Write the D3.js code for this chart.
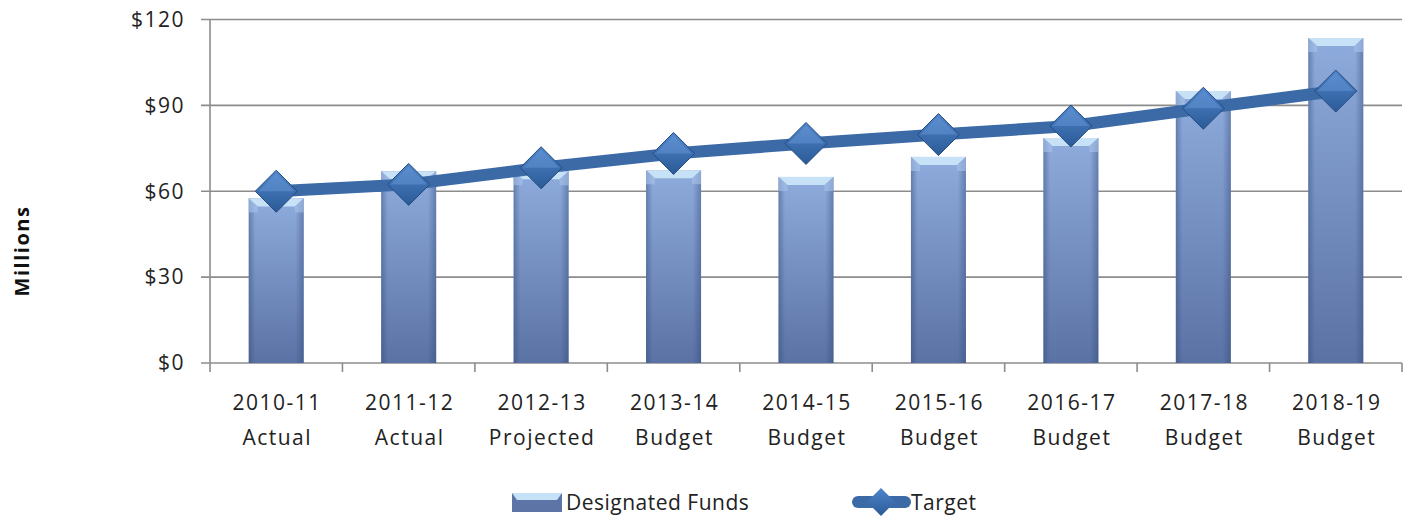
<!DOCTYPE html>
<html>
<head>
<meta charset="utf-8">
<script src="https://cdn.jsdelivr.net/npm/d3@7"></script>
<style>
  body { margin: 0; background: #fff; }
  text { font-family: "Open Sans", "Liberation Sans", sans-serif; fill: #222; }
</style>
</head>
<body>
<div id="chart"></div>
<script>
"use strict";

var years = ["2010-11", "2011-12", "2012-13", "2013-14", "2014-15", "2015-16", "2016-17", "2017-18", "2018-19"];
var kinds = ["Actual", "Actual", "Projected", "Budget", "Budget", "Budget", "Budget", "Budget", "Budget"];
var funds = [57.5, 67, 67, 67.3, 65, 72, 78.6, 95, 113.5];   // Designated Funds
var target = [60, 62.4, 68.2, 73.2, 76.7, 79.8, 82.8, 89, 95];
var yTicks = [0, 30, 60, 90, 120];

const width = 1418, height = 529;
const margin = {left: 210, right: 16, top: 19.5, bottom: 166};

let svg = d3.select("#chart").append("svg")
  .attr("width", width)
  .attr("height", height);

let defs = svg.append("defs");

// bar body: light at top, darker at bottom
let barGrad = defs.append("linearGradient").attr("id", "barGrad")
  .attr("x1", 0).attr("y1", 0).attr("x2", 0).attr("y2", 1);
barGrad.append("stop").attr("offset", "0%").attr("stop-color", "#93b1e2");
barGrad.append("stop").attr("offset", "100%").attr("stop-color", "#5d75a6");

// darker side edges
let sideGrad = defs.append("linearGradient").attr("id", "sideGrad")
  .attr("x1", 0).attr("y1", 0).attr("x2", 1).attr("y2", 0);
sideGrad.append("stop").attr("offset", "0%").attr("stop-color", "#2d4575").attr("stop-opacity", 0.45);
sideGrad.append("stop").attr("offset", "12%").attr("stop-color", "#2d4575").attr("stop-opacity", 0.05);
sideGrad.append("stop").attr("offset", "85%").attr("stop-color", "#2d4575").attr("stop-opacity", 0.05);
sideGrad.append("stop").attr("offset", "100%").attr("stop-color", "#2d4575").attr("stop-opacity", 0.45);

let diaGrad = defs.append("linearGradient").attr("id", "diaGrad")
  .attr("x1", 0).attr("y1", 0).attr("x2", 0).attr("y2", 1);
diaGrad.append("stop").attr("offset", "0%").attr("stop-color", "#4f86cc");
diaGrad.append("stop").attr("offset", "100%").attr("stop-color", "#2b5a96");

let x = d3.scaleBand()
  .domain(years)
  .range([margin.left, width - margin.right]);

let y = d3.scaleLinear()
  .domain([0, 120])
  .range([height - margin.bottom, margin.top]);

// gridlines
svg.append("g")
  .selectAll("line")
  .data(yTicks)
  .join("line")
    .attr("x1", margin.left - 9)
    .attr("x2", width - margin.right)
    .attr("y1", d => y(d))
    .attr("y2", d => y(d))
    .attr("stroke", "#8c8c8c")
    .attr("stroke-width", 1.6);

// y tick labels
svg.append("g")
  .selectAll("text")
  .data(yTicks)
  .join("text")
    .attr("x", 185)
    .attr("y", d => y(d))
    .attr("dy", "0.35em")
    .attr("text-anchor", "end")
    .style("font-size", "21px")
    .style("letter-spacing", "1.5px")
    .text(d => "$" + d);

// y axis line
svg.append("line")
  .attr("x1", margin.left).attr("x2", margin.left)
  .attr("y1", y(120)).attr("y2", y(0) + 9)
  .attr("stroke", "#8c8c8c").attr("stroke-width", 1.6);

// x ticks between categories
let xTickPos = d3.range(years.length + 1).map(i => margin.left + i * x.step());
svg.append("g")
  .selectAll("line")
  .data(xTickPos.slice(1))
  .join("line")
    .attr("x1", d => d).attr("x2", d => d)
    .attr("y1", y(0)).attr("y2", y(0) + 9)
    .attr("stroke", "#8c8c8c").attr("stroke-width", 1.6);

// x labels (two lines)
let xl = svg.append("g")
  .selectAll("text")
  .data(years)
  .join("text")
    .attr("text-anchor", "middle")
    .style("font-size", "21px")
    .style("letter-spacing", "1.5px");
xl.append("tspan")
  .attr("x", d => x(d) + x.bandwidth() / 2 + 1)
  .attr("y", 410)
  .text(d => d);
xl.append("tspan")
  .attr("x", d => x(d) + x.bandwidth() / 2 + 1)
  .attr("y", 445)
  .text((d, i) => kinds[i]);

// y axis title
svg.append("text")
  .attr("transform", "translate(29,251) rotate(-90)")
  .attr("text-anchor", "middle")
  .style("font-size", "20px")
  .style("font-weight", "bold")
  .style("letter-spacing", "1.5px")
  .style("fill", "#111")
  .text("Millions");

// bars
const barW = 55;
let bars = svg.append("g")
  .selectAll("g")
  .data(years)
  .join("g")
    .attr("transform", (d, i) => `translate(${x(d) + x.bandwidth() / 2 - barW / 2},${y(funds[i])})`);

bars.append("rect")
  .attr("width", barW)
  .attr("height", (d, i) => y(0) - y(funds[i]))
  .attr("fill", "url(#barGrad)");
bars.append("rect")
  .attr("width", barW)
  .attr("height", (d, i) => y(0) - y(funds[i]))
  .attr("fill", "url(#sideGrad)");
// top bevel
bars.append("path")
  .attr("d", `M0,0 L${barW},0 L${barW - 9},8 L9,8 Z`)
  .attr("fill", "#c7e2f7");
bars.append("path")
  .attr("d", `M0,0 L9,8 L9,14 L0,14 Z M${barW},0 L${barW - 9},8 L${barW - 9},14 L${barW},14 Z`)
  .attr("fill", "#a9c3ea")
  .attr("opacity", 0.6);

// target line
let line = d3.line()
  .x((d, i) => x(years[i]) + x.bandwidth() / 2)
  .y(d => y(d));

svg.append("path")
  .datum(target)
  .attr("d", line)
  .attr("fill", "none")
  .attr("stroke", "#3b6aa7")
  .attr("stroke-width", 12)
  .attr("stroke-linejoin", "round");

const dr = 21;
function diamond(g) {
  g.append("path")
    .attr("d", `M0,${-dr} L${dr},0 L0,${dr} L${-dr},0 Z`)
    .attr("fill", "url(#diaGrad)")
    .attr("stroke", "#244b80")
    .attr("stroke-width", 1);
  g.append("path")
    .attr("d", `M0,${-dr + 3} L${dr - 3},0 L0,0 L${-dr + 3},0 Z`)
    .attr("fill", "#6b9ad6")
    .attr("opacity", 0.45);
}

svg.append("g")
  .selectAll("g")
  .data(target)
  .join("g")
    .attr("transform", (d, i) => `translate(${x(years[i]) + x.bandwidth() / 2},${y(d)})`)
    .each(function() { diamond(d3.select(this)); });

// legend
let lg = svg.append("g");
lg.append("rect")
  .attr("x", 512).attr("y", 493).attr("width", 50).attr("height", 19)
  .attr("fill", "#5d75a6");
lg.append("path")
  .attr("d", "M512,493 L562,493 L557,500 L517,500 Z")
  .attr("fill", "#c7e2f7");
lg.append("text")
  .attr("x", 566).attr("y", 503).attr("dy", "0.35em")
  .style("font-size", "21px")
  .style("letter-spacing", "0.5px")
  .text("Designated Funds");

lg.append("line")
  .attr("x1", 858).attr("x2", 905)
  .attr("y1", 502).attr("y2", 502)
  .attr("stroke", "#3b6aa7").attr("stroke-width", 12)
  .attr("stroke-linecap", "round");
lg.append("path")
  .attr("d", "M881,488 L895,502 L881,516 L867,502 Z")
  .attr("fill", "url(#diaGrad)");
lg.append("text")
  .attr("x", 911).attr("y", 503).attr("dy", "0.35em")
  .style("font-size", "21px")
  .style("letter-spacing", "0.5px")
  .text("Target");
</script>
</body>
</html>
